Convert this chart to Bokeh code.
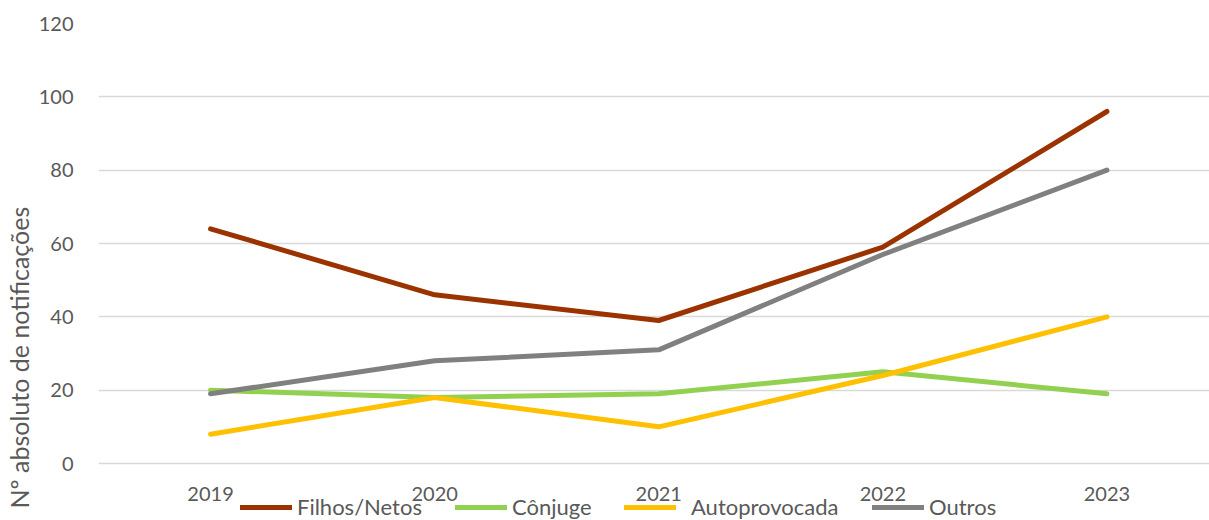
from bokeh.embed import file_html
from bokeh.models import FixedTicker, Legend, LegendItem, Range1d, Title
from bokeh.plotting import figure
from bokeh.resources import INLINE

# Annual notification counts by relationship to the victim
years = [2019, 2020, 2021, 2022, 2023]
filhos_netos = [64, 46, 39, 59, 96]
conjuge = [20, 18, 19, 25, 19]
autoprovocada = [8, 18, 10, 24, 40]
outros = [19, 28, 31, 57, 80]
y_ticks = [0, 20, 40, 60, 80, 100, 120]

series = [
    ("Filhos/Netos", filhos_netos, "#9B3300"),
    ("Cônjuge", conjuge, "#92D050"),
    ("Autoprovocada", autoprovocada, "#FFC000"),
    ("Outros", outros, "#808080"),
]

FONT = "Lato"
TEXT_COLOR = "#595959"

W, H = 1209, 520
LEFT, TOP = 96, 23          # frame offsets from the canvas edges
ZERO_PX = 463               # canvas row of the zero line
step_px = 224.5             # pixels between consecutive years
unit_px = (ZERO_PX - TOP) / 120.0

frame_w = W - LEFT
below_zero = (H - ZERO_PX) / unit_px   # frame continues under the zero line

p = figure(
    width=W, height=H,
    output_backend="svg", toolbar_location=None,
    x_range=Range1d(2018.5, 2018.5 + frame_w / step_px),
    y_range=Range1d(-below_zero, 120),
    min_border_left=LEFT, min_border_right=0,
    min_border_top=TOP, min_border_bottom=0,
)
p.outline_line_color = None
p.background_fill_color = "white"
p.border_fill_color = "white"

# axes: no lines or ticks, only labels
for ax in (p.xaxis[0], p.yaxis[0]):
    ax.axis_line_color = None
    ax.major_tick_line_color = None
    ax.minor_tick_line_color = None
    ax.major_label_text_font = FONT
    ax.major_label_text_font_size = "20px"
    ax.major_label_text_color = TEXT_COLOR

p.xaxis.major_label_standoff = 17
p.yaxis.major_label_standoff = 19
p.xaxis.ticker = FixedTicker(ticks=years)
p.xaxis.fixed_location = 0
p.yaxis.ticker = FixedTicker(ticks=y_ticks)
p.xgrid.grid_line_color = None
p.ygrid.grid_line_color = "#D9D9D9"
p.ygrid.grid_line_width = 1.5

# series lines
renderers = []
for name, vals, color in series:
    r = p.line(years, vals, line_color=color, line_width=5,
               line_cap="round", line_join="round")
    renderers.append((name, r))

# legend entries laid out along the bottom edge
legend_x = [142, 357, 526, 774]
for (name, r), lx in zip(renderers, legend_x):
    lg = Legend(
        items=[LegendItem(label=name, renderers=[r])],
        location=(lx, 0),
        orientation="horizontal",
        glyph_width=52, glyph_height=20,
        label_standoff=5 if name != "Autoprovocada" else 15,
        label_text_font=FONT, label_text_font_size="22px",
        label_text_color=TEXT_COLOR,
        padding=0, margin=0, spacing=0,
        border_line_color=None, background_fill_alpha=0,
    )
    p.add_layout(lg, "center")

# vertical axis title
p.add_layout(Title(
    text="Nº absoluto de notificações", align="left", offset=12,
    text_font=FONT, text_font_size="25px", text_font_style="normal",
    text_color=TEXT_COLOR, standoff=3,
), "left")

open("out.html", "w").write(file_html(p, INLINE))
